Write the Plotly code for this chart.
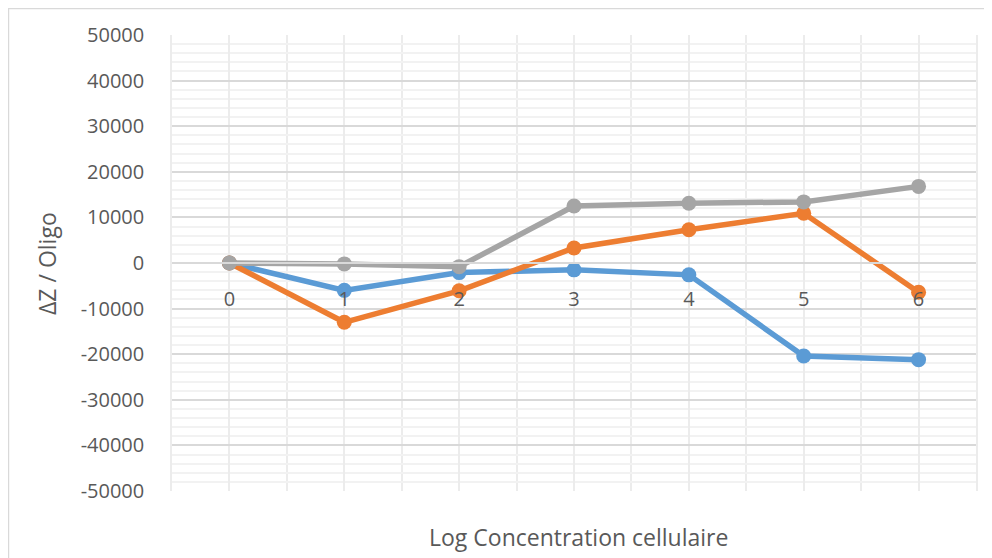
import plotly.graph_objects as go

log_conc = [0, 1, 2, 3, 4, 5, 6]
x_tick_labels = ["0", "1", "2", "3", "4", "5", "6"]
series_blue = [0, -6000, -2100, -1500, -2600, -20400, -21200]
series_orange = [0, -13000, -6100, 3300, 7300, 10900, -6400]
series_gray = [0, -200, -800, 12500, 13100, 13400, 16800]
y_tick_vals = [50000, 40000, 30000, 20000, 10000, 0, -10000, -20000, -30000, -40000, -50000]
y_tick_labels = ["50000", "40000", "30000", "20000", "10000", "0", "-10000", "-20000", "-30000", "-40000", "-50000"]

colors = ["#5B9BD5", "#ED7D31", "#A5A5A5"]
font_family = "Open Sans, Calibri, sans-serif"
text_color = "#595959"

fig = go.Figure()
for ys, c in zip([series_blue, series_orange, series_gray], colors):
    fig.add_trace(go.Scatter(
        x=log_conc, y=ys, mode="lines+markers",
        line=dict(color=c, width=5.5),
        marker=dict(color=c, size=15),
        showlegend=False, hoverinfo="x+y",
    ))

# page body has an 8px margin, so the figure is placed at (8, 8)
fig.update_layout(
    width=984, height=550,
    margin=dict(l=164, r=16, t=27, b=67, autoexpand=False),
    paper_bgcolor="white", plot_bgcolor="white",
    font=dict(family=font_family, color=text_color, size=18),
    xaxis=dict(
        range=[-0.5, 6.5], tickvals=log_conc, ticktext=x_tick_labels,
        showgrid=True, gridcolor="#ececec", gridwidth=1.5,
        minor=dict(dtick=0.5, tick0=0, showgrid=True, gridcolor="#ececec", gridwidth=1.5),
        anchor="free", position=0.5,
        showline=True, linecolor="#d9d9d9", linewidth=1.5,
        ticks="", ticklabelstandoff=18,
        tickfont=dict(size=20, color=text_color),
        zeroline=False, automargin=False,
    ),
    yaxis=dict(
        range=[-50000, 50000], tickvals=y_tick_vals, ticktext=y_tick_labels,
        showgrid=True, gridcolor="#d9d9d9", gridwidth=1.5,
        minor=dict(dtick=2000, tick0=0, showgrid=True, gridcolor="#f2f2f2", gridwidth=1.5),
        showline=True, linecolor="#ececec", linewidth=1.5, mirror=True,
        ticks="", ticklabelstandoff=22,
        tickfont=dict(size=20, color=text_color),
        zeroline=False, automargin=False,
    ),
    annotations=[
        dict(text="Log Concentration cellulaire", xref="paper", yref="paper",
             x=0.506, y=-0.101, xanchor="center", yanchor="middle", showarrow=False,
             font=dict(size=23, color=text_color)),
        dict(text="ΔZ / Oligo", xref="paper", yref="paper",
             x=-0.1555, y=0.5, xanchor="center", yanchor="middle", showarrow=False,
             textangle=-90, font=dict(size=23, color=text_color)),
    ],
    shapes=[
        dict(type="rect", xref="paper", yref="paper",
             x0=-0.2034, y0=-0.4, x1=1.2, y1=1.058,
             line=dict(color="#d9d9d9", width=1.5), fillcolor="rgba(0,0,0,0)", layer="below"),
    ],
)

fig.write_html("out.html")
